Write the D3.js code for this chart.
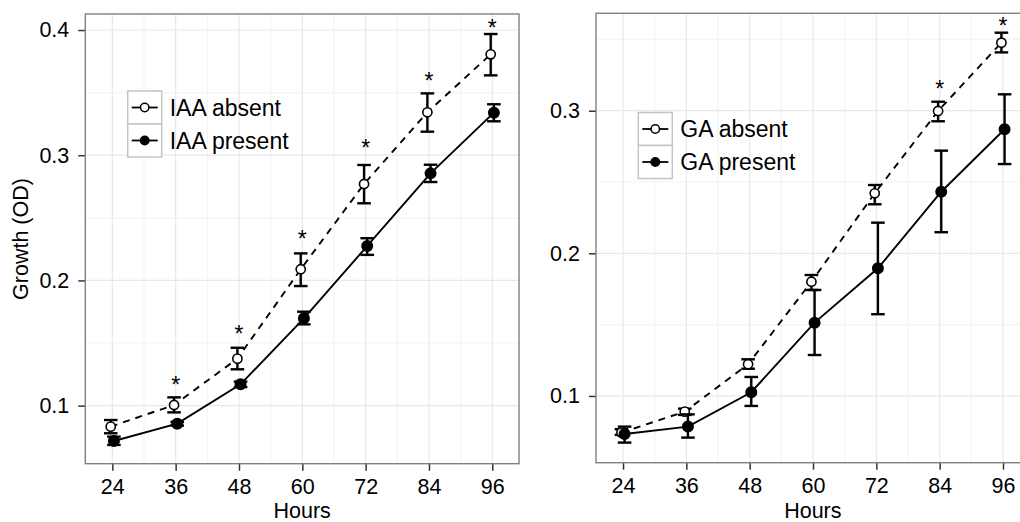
<!DOCTYPE html>
<html>
<head>
<meta charset="utf-8">
<script src="https://cdn.jsdelivr.net/npm/d3@7"></script>
<style>
  body { margin: 0; background: #fff; }
  text { font-family: "Liberation Sans", Arial, sans-serif; fill: #000; }
</style>
</head>
<body>
<svg id="chart" width="1020" height="522"></svg>
<script>
// hours on the x axis
const hours = [24, 36, 48, 60, 72, 84, 96];

// IAA panel
const iaaAbsentMean = [0.0832, 0.1005, 0.1375, 0.2089, 0.2770, 0.3343, 0.3806];
const iaaAbsentLow = [0.0779, 0.0946, 0.1290, 0.1955, 0.2616, 0.3188, 0.3638];
const iaaAbsentHigh = [0.0885, 0.1066, 0.1462, 0.2216, 0.2922, 0.3494, 0.3968];
const iaaPresentMean = [0.0717, 0.0856, 0.1170, 0.1697, 0.2275, 0.2855, 0.3340];
const iaaPresentLow = [0.0686, 0.0840, 0.1148, 0.1649, 0.2204, 0.2786, 0.3271];
const iaaPresentHigh = [0.0752, 0.0870, 0.1192, 0.1750, 0.2337, 0.2924, 0.3407];
const iaaStarHours = [36, 48, 60, 72, 84, 96];
const iaaStarY = [0.1212, 0.1617, 0.2371, 0.3101, 0.3637, 0.4064];
const iaaTicks = [0.1, 0.2, 0.3, 0.4];
const iaaLegend = ["IAA absent", "IAA present"];

// GA panel
const gaAbsentMean = [0.0743, 0.0890, 0.1222, 0.1801, 0.2421, 0.2998, 0.3477];
const gaAbsentLow = [0.0727, 0.0867, 0.1191, 0.1743, 0.2344, 0.2926, 0.3409];
const gaAbsentHigh = [0.0767, 0.0911, 0.1257, 0.1848, 0.2479, 0.3063, 0.3547];
const gaPresentMean = [0.0733, 0.0785, 0.1026, 0.1514, 0.1895, 0.2432, 0.2870];
const gaPresentLow = [0.0673, 0.0708, 0.0930, 0.1287, 0.1573, 0.2148, 0.2626];
const gaPresentHigh = [0.0785, 0.0871, 0.1133, 0.1743, 0.2215, 0.2720, 0.3115];
const gaStarHours = [84, 96];
const gaStarY = [0.3194, 0.3636];
const gaTicks = [0.1, 0.2, 0.3];
const gaLegend = ["GA absent", "GA present"];

const svg = d3.select("#chart");
const axisFont = "21.5px";

function series(mean, low, high) {
  return hours.map((h, i) => ({ h: h, m: mean[i], lo: low[i], hi: high[i] }));
}

function drawPanel(opt) {
  const x = d3.scaleLinear().domain([18.88, 101.06]).range([opt.left, opt.right]);
  const y = d3.scaleLinear().domain(opt.yDomain).range([opt.bottom, opt.top]);
  const g = svg.append("g");

  // minor grid
  const xMinor = hours.slice(1).map(h => h - 6);
  const yMinor = opt.ticks.map(t => t + 0.05).filter(v => v < opt.yDomain[1]);
  yMinor.push(opt.ticks[0] - 0.05);
  g.selectAll(".xminor").data(xMinor).enter().append("line")
    .attr("x1", d => x(d)).attr("x2", d => x(d))
    .attr("y1", opt.top).attr("y2", opt.bottom)
    .attr("stroke", "#f4f4f4").attr("stroke-width", 1.2);
  g.selectAll(".yminor").data(yMinor.filter(v => v > opt.yDomain[0])).enter().append("line")
    .attr("x1", opt.left).attr("x2", opt.right)
    .attr("y1", d => y(d)).attr("y2", d => y(d))
    .attr("stroke", "#f4f4f4").attr("stroke-width", 1.2);

  // major grid
  g.selectAll(".xmajor").data(hours).enter().append("line")
    .attr("x1", d => x(d)).attr("x2", d => x(d))
    .attr("y1", opt.top).attr("y2", opt.bottom)
    .attr("stroke", "#e8e8e8").attr("stroke-width", 1.2);
  g.selectAll(".ymajor").data(opt.ticks).enter().append("line")
    .attr("x1", opt.left).attr("x2", opt.right)
    .attr("y1", d => y(d)).attr("y2", d => y(d))
    .attr("stroke", "#e8e8e8").attr("stroke-width", 1.2);

  // axes
  const xAxis = d3.axisBottom(x).tickValues(hours).tickSize(7).tickPadding(8);
  const yAxis = d3.axisLeft(y).tickValues(opt.ticks).tickSize(7).tickPadding(9)
    .tickFormat(d3.format(".1f"));

  const gx = g.append("g").attr("transform", `translate(0, ${ opt.bottom })`).call(xAxis);
  const gy = g.append("g").attr("transform", `translate(${ opt.left }, 0)`).call(yAxis);
  [gx, gy].forEach(a => {
    a.select(".domain").remove();
    a.selectAll("line").attr("stroke", "#333").attr("stroke-width", 1.5);
    a.selectAll("text").style("font-size", axisFont).attr("fill", "#000")
      .style("font-family", "'Liberation Sans', Arial, sans-serif");
  });

  // border
  g.append("rect")
    .attr("x", opt.left).attr("y", opt.top)
    .attr("width", opt.right - opt.left).attr("height", opt.bottom - opt.top)
    .attr("fill", "none").attr("stroke", "#808080").attr("stroke-width", 1.4);

  const line = d3.line().x(d => x(d.h + d.dx)).y(d => y(d.m));

  const groups = [
    { data: opt.absent.map(d => ({ ...d, dx: -0.3 })), dash: "7,6", fill: "#fff", r: 4.6 },
    { data: opt.present.map(d => ({ ...d, dx: 0.3 })), dash: null, fill: "#000", r: 5.2 }
  ];

  groups.forEach(s => {
    g.append("path")
      .datum(s.data)
      .attr("fill", "none")
      .attr("stroke", "#000")
      .attr("stroke-width", 1.9)
      .attr("stroke-dasharray", s.dash)
      .attr("d", line);

    // error bars
    const eb = g.append("g");
    eb.selectAll(".v").data(s.data).enter().append("line")
      .attr("x1", d => x(d.h + d.dx)).attr("x2", d => x(d.h + d.dx))
      .attr("y1", d => y(d.lo)).attr("y2", d => y(d.hi))
      .attr("stroke", "#000").attr("stroke-width", 2.4);
    ["lo", "hi"].forEach(k => {
      eb.selectAll(".c" + k).data(s.data).enter().append("line")
        .attr("x1", d => x(d.h + d.dx) - 6.8).attr("x2", d => x(d.h + d.dx) + 6.8)
        .attr("y1", d => y(d[k])).attr("y2", d => y(d[k]))
        .attr("stroke", "#000").attr("stroke-width", 2.4);
    });

    g.selectAll(null).data(s.data).enter().append("circle")
      .attr("cx", d => x(d.h + d.dx))
      .attr("cy", d => y(d.m))
      .attr("r", s.r)
      .attr("fill", s.fill)
      .attr("stroke", "#000")
      .attr("stroke-width", 1.6);
  });

  // significance stars
  g.selectAll(".star").data(opt.starHours).enter().append("text")
    .attr("x", d => x(d))
    .attr("y", (d, i) => y(opt.starY[i]) + 13.5)
    .attr("text-anchor", "middle")
    .style("font-size", "23px")
    .text("*");

  // legend
  const L = opt.legend;
  const keyW = 34, keyH = 33;
  opt.labels.forEach((lab, i) => {
    const ky = L.y + i * keyH;
    g.append("rect")
      .attr("x", L.x).attr("y", ky).attr("width", keyW).attr("height", keyH)
      .attr("fill", "#fff").attr("stroke", "#c4c4c4").attr("stroke-width", 1.5);
    g.append("line")
      .attr("x1", L.x + 4).attr("x2", L.x + keyW - 4)
      .attr("y1", ky + keyH / 2).attr("y2", ky + keyH / 2)
      .attr("stroke", "#000").attr("stroke-width", 1.8);
    g.append("circle")
      .attr("cx", L.x + keyW / 2).attr("cy", ky + keyH / 2)
      .attr("r", 4.2)
      .attr("fill", i === 0 ? "#fff" : "#000")
      .attr("stroke", "#000").attr("stroke-width", 1.5);
    g.append("text")
      .attr("x", L.x + keyW + 8).attr("y", ky + keyH / 2 + 8)
      .style("font-size", "23px")
      .text(lab);
  });

  // x axis title
  g.append("text")
    .attr("x", (opt.left + opt.right) / 2)
    .attr("y", 518)
    .attr("text-anchor", "middle")
    .style("font-size", axisFont)
    .text("Hours");
}

drawPanel({
  left: 85.3, right: 519, top: 14, bottom: 463.7,
  yDomain: [0.0536, 0.4128], ticks: iaaTicks,
  absent: series(iaaAbsentMean, iaaAbsentLow, iaaAbsentHigh),
  present: series(iaaPresentMean, iaaPresentLow, iaaPresentHigh),
  starHours: iaaStarHours, starY: iaaStarY,
  labels: iaaLegend, legend: { x: 127.7, y: 91 }
});

drawPanel({
  left: 596, right: 1029.7, top: 13.3, bottom: 462.7,
  yDomain: [0.0532, 0.3683], ticks: gaTicks,
  absent: series(gaAbsentMean, gaAbsentLow, gaAbsentHigh),
  present: series(gaPresentMean, gaPresentLow, gaPresentHigh),
  starHours: gaStarHours, starY: gaStarY,
  labels: gaLegend, legend: { x: 638.3, y: 112.5 }
});

// y axis title
svg.append("text")
  .attr("transform", "translate(28, 239) rotate(-90)")
  .attr("text-anchor", "middle")
  .style("font-size", axisFont)
  .text("Growth (OD)");
</script>
</body>
</html>
